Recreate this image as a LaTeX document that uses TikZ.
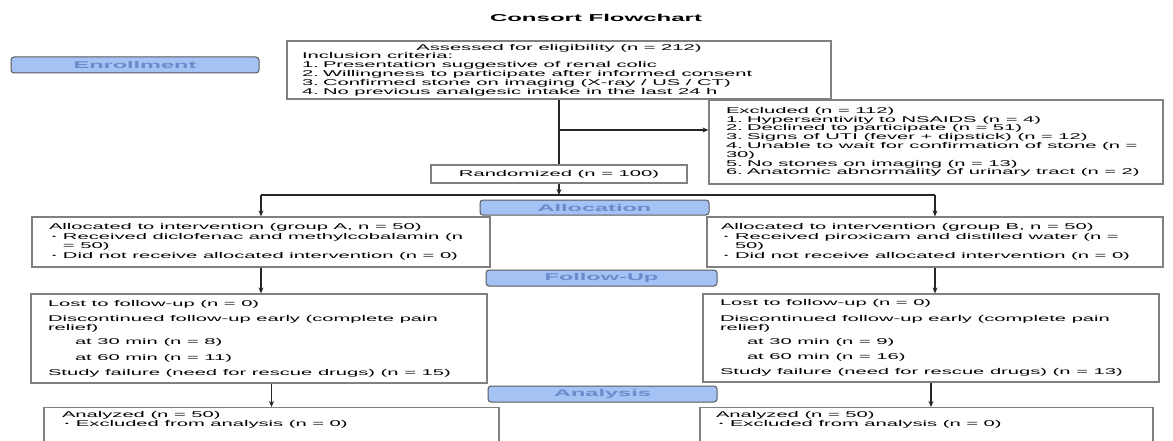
\documentclass[tikz,border=0pt]{standalone}
\usepackage{fontspec}
\setmainfont[FakeStretch=2.4]{Liberation Sans}
\usetikzlibrary{arrows.meta}
\definecolor{pillblue}{HTML}{A4C2F4}
\definecolor{pilltext}{HTML}{6A8CCB}
\definecolor{boxline}{HTML}{808080}
\newcommand{\bul}{\makebox[14pt][l]{\hspace{3pt}\raisebox{0.8pt}{\fontsize{5}{5}\selectfont\textbullet}}}
\newcommand{\hangtab}{\hspace*{14pt}}
\newcommand{\ind}{\hspace*{27pt}}
\newcommand{\itembox}[2]{\begin{minipage}{#1}\raggedright\spaceskip=5.6pt\relax #2\end{minipage}}
\tikzstyle{plainbox} = [rectangle, draw=boxline, line width=1.2pt, font=\fontsize{8.4}{8.8}\selectfont, inner ysep=2pt]
\tikzstyle{box} = [plainbox, align=left, execute at begin node={\spaceskip=5.6pt\relax}]
\tikzstyle{pill} = [rectangle, rounded corners=3pt, draw=black!65, line width=1pt, fill=pillblue, text=pilltext, font=\fontsize{9.8}{10}\selectfont\bfseries, inner sep=0pt]
\tikzstyle{arrow} = [line width=1.2pt, draw=black!85, ->, >={Stealth[length=6pt,width=5pt]}]
\tikzstyle{line} = [line width=1.2pt, draw=black!85]

\begin{document}
\begin{tikzpicture}[x=1pt, y=-1pt]
    \clip (0,0) rectangle (1173,441);
    \fill [white] (0,0) rectangle (1173,441);

    \node (title) [font=\fontsize{10}{10}\selectfont\bfseries] at (596,18) {Consort Flowchart};

    % stage labels
    \node (enroll) [pill, minimum width=248pt, minimum height=16pt] at (135,65) {Enrollment};
    \node (alloc) [pill, minimum width=229pt, minimum height=15pt] at (594.5,207.5) {Allocation};
    \node (follow) [pill, minimum width=231pt, minimum height=16pt] at (601.5,278) {Follow-Up};
    \node (analysis) [pill, minimum width=229pt, minimum height=16pt] at (602.5,394) {Analysis};

    % enrollment
    \node (assess) [box, text width=514pt, inner xsep=15pt, minimum height=58pt] at (559,70) {\makebox[\hsize][c]{Assessed for eligibility (n = 212)}\\
        Inclusion criteria:\\
        1. Presentation suggestive of renal colic\\
        2. Willingness to participate after informed consent\\
        3. Confirmed stone on imaging (X-ray / US / CT)\\
        4. No previous analgesic intake in the last 24 h};
    \node (excl) [box, text width=420pt, inner xsep=17pt, minimum height=84pt] at (936,142) {Excluded (n = 112)\\
        1. Hypersentivity to NSAIDS (n = 4)\\
        2. Declined to participate (n = 51)\\
        3. Signs of UTI (fever + dipstick) (n = 12)\\
        4. Unable to wait for confirmation of stone (n =\\
        30)\\
        5. No stones on imaging (n = 13)\\
        6. Anatomic abnormality of urinary tract (n = 2)};
    \node (rand) [box, minimum width=256pt, minimum height=18pt, inner xsep=0pt] at (559,174) {Randomized (n = 100)};

    % allocation
    \node (allocA) [plainbox, inner xsep=17pt, minimum height=50pt] at (261,242) {\itembox{424pt}{Allocated to intervention (group A, n = 50)\\[1pt]
        \bul Received diclofenac and methylcobalamin (n\\
        \hangtab= 50)\\[1pt]
        \bul Did not receive allocated intervention (n = 0)}};
    \node (allocB) [plainbox, inner xsep=14pt, minimum height=50pt] at (935,242) {\itembox{428pt}{Allocated to intervention (group B, n = 50)\\[1pt]
        \bul Received piroxicam and distilled water (n =\\
        \hangtab 50)\\[1pt]
        \bul Did not receive allocated intervention (n = 0)}};

    % follow-up
    \node (followA) [box, text width=422pt, inner xsep=17pt, minimum height=89pt] at (259,338.5) {Lost to follow-up (n = 0)\\[7pt]
        Discontinued follow-up early (complete pain\\
        relief)\\[5pt]
        \ind at 30 min (n = 8)\\[7pt]
        \ind at 60 min (n = 11)\\[6pt]
        Study failure (need for rescue drugs) (n = 15)};
    \node (followB) [box, text width=422pt, inner xsep=17pt, minimum height=88pt] at (931,338) {Lost to follow-up (n = 0)\\[7pt]
        Discontinued follow-up early (complete pain\\
        relief)\\[5pt]
        \ind at 30 min (n = 9)\\[7pt]
        \ind at 60 min (n = 16)\\[6pt]
        Study failure (need for rescue drugs) (n = 13)};

    % analysis
    \node (anaA) [box, anchor=north, text width=419pt, inner xsep=18pt, inner ysep=4pt, text depth=50pt] at (271.5,407) {Analyzed (n = 50)\\
        \bul Excluded from analysis (n = 0)};
    \node (anaB) [box, anchor=north, text width=421pt, inner xsep=16pt, inner ysep=4pt, text depth=50pt] at (926.5,407) {Analyzed (n = 50)\\
        \bul Excluded from analysis (n = 0)};

    \coordinate (split) at (559,130);
    \coordinate (fork) at (559,195);
    \draw [line] (assess.south) -- (rand.north);
    \draw [arrow] (split) -- (split -| excl.west);
    \draw [arrow] (rand.south) -- (fork);
    \draw [line] (allocA.north |- fork) -- (allocB.north |- fork);
    \draw [arrow] (allocA.north |- fork) -- (allocA.north);
    \draw [arrow] (allocB.north |- fork) -- (allocB.north);
    \draw [arrow] (allocA.south) -- (allocA.south |- followA.north);
    \draw [arrow] (allocB.south) -- (allocB.south |- followB.north);
    \draw [arrow] (anaA.north |- followA.south) -- (anaA.north);
    \draw [arrow] (followB.south) -- (followB.south |- anaB.north);
\end{tikzpicture}
\end{document}
